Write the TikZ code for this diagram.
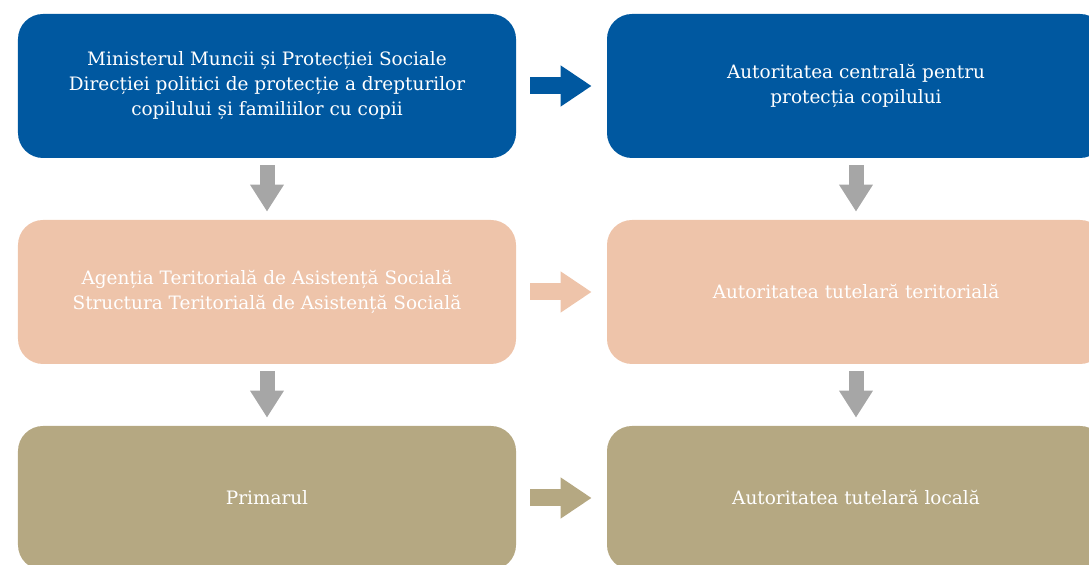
\documentclass[tikz,border=0pt]{standalone}
\usepackage{fontspec}
\setmainfont{DejaVu Serif}
\usepackage{xcolor}
\usepackage{tikz}
\usetikzlibrary{arrows.meta, positioning}
\definecolor{minblue}{RGB}{0,88,160}
\definecolor{terpeach}{RGB}{238,196,170}
\definecolor{lockhaki}{RGB}{181,168,130}
\definecolor{downgrey}{RGB}{166,166,166}
\tikzstyle{level} = [rectangle, rounded corners=0.5cm, minimum width=9.96cm, minimum height=2.88cm, text centered, align=center, text=white, font=\fontsize{10.5}{14.2}\selectfont]
\tikzstyle{across} = [line width=0.34cm, shorten <=0.28cm, shorten >=0.30cm, -{Triangle[length=0.62cm, width=0.78cm]}]
\tikzstyle{down} = [draw=downgrey, line width=0.3cm, shorten <=0.14cm, shorten >=0.16cm, -{Triangle[length=0.54cm, width=0.64cm]}]

\begin{document}
\begin{tikzpicture}[node distance=4.12cm]
\useasboundingbox (0,0) rectangle (21.78,-11.3);
% Nodes
\node (ministry) [level, fill=minblue] at (5.34,-1.72) {Ministerul Muncii și Protecției Sociale\\Direcției politici de protecție a drepturilor\\copilului și familiilor cu copii};
\node (central) [level, fill=minblue, right of=ministry, xshift=7.66cm] {Autoritatea centrală pentru\\protecția copilului};
\node (agency) [level, fill=terpeach, below of=ministry] {Agenția Teritorială de Asistență Socială\\Structura Teritorială de Asistență Socială};
\node (territorial) [level, fill=terpeach, below of=central] {Autoritatea tutelară teritorială};
\node (mayor) [level, fill=lockhaki, below of=agency] {Primarul};
\node (local) [level, fill=lockhaki, below of=territorial] {Autoritatea tutelară locală};

% Arrows
\draw [across, draw=minblue, fill=minblue] (ministry) -- (central);
\draw [across, draw=terpeach, fill=terpeach] (agency) -- (territorial);
\draw [across, draw=lockhaki, fill=lockhaki] (mayor) -- (local);
\draw [down, fill=downgrey] (ministry) -- (agency);
\draw [down, fill=downgrey] (agency) -- (mayor);
\draw [down, fill=downgrey] (central) -- (territorial);
\draw [down, fill=downgrey] (territorial) -- (local);
\end{tikzpicture}
\end{document}
